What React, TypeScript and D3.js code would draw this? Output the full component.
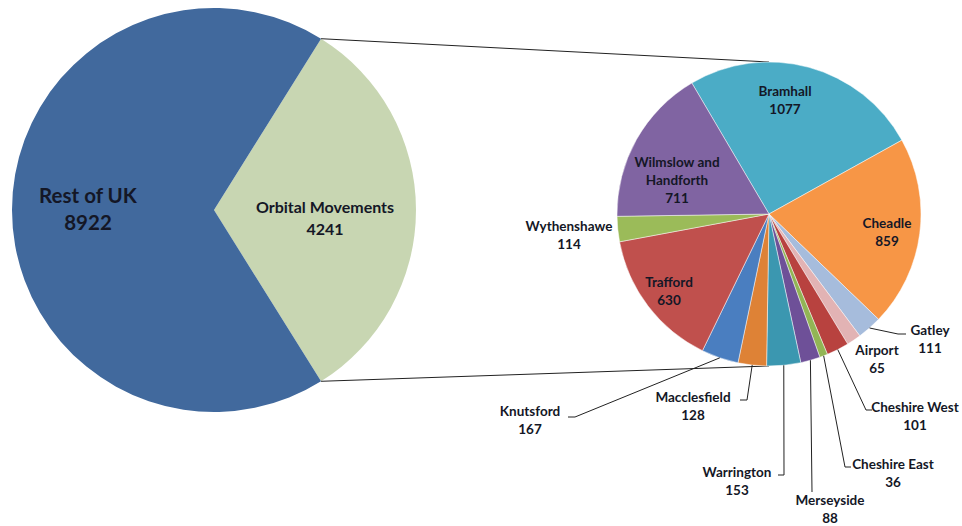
import React from "react";
import * as d3 from "d3";

// main pie
const mainCategories = ["Orbital Movements", "Rest of UK"];
const mainValues = [4241, 8922];
const mainColors = ["#C8D6B2", "#41699D"];

// breakdown of orbital movements (second pie, clockwise from Bramhall)
const orbitalCategories = [
  "Bramhall",
  "Cheadle",
  "Gatley",
  "Airport",
  "Cheshire West",
  "Cheshire East",
  "Merseyside",
  "Warrington",
  "Macclesfield",
  "Knutsford",
  "Trafford",
  "Wythenshawe",
  "Wilmslow and Handforth",
];
const orbitalValues = [1077, 859, 111, 65, 101, 36, 88, 153, 128, 167, 630, 114, 711];
const orbitalColors = [
  "#4BACC6", "#F79646", "#A6BCDC", "#E2B3B4", "#B8423F", "#92B555", "#6E5098",
  "#3B97B0", "#DE8236", "#4A7EC0", "#C0504D", "#9BBB59", "#8064A2",
];

const W = 962;
const H = 526;
const FONT = "Lato, 'Open Sans', sans-serif";
const TEXT = "#141726";

const bigPie = { cx: 214, cy: 210, r: 202 };
const smallPie = { cx: 769, cy: 214, r: 152 };
const smallStart = (-30.5 * Math.PI) / 180;

// label layout: centre of first line
const mainLabelPos: Record<string, { x: number; y: number; size: number; gap: number }> = {
  "Rest of UK": { x: 88, y: 195, size: 20.5, gap: 27 },
  "Orbital Movements": { x: 325, y: 206, size: 16, gap: 22 },
};

const labelPos: Record<string, [number, number]> = {
  Bramhall: [785, 91],
  Cheadle: [887, 223],
  Gatley: [930, 330],
  Airport: [877, 350],
  "Cheshire West": [915, 407],
  "Cheshire East": [893, 464],
  Merseyside: [830, 500],
  Warrington: [737, 472],
  Macclesfield: [693, 397],
  Knutsford: [530, 411],
  Trafford: [669, 282],
  Wythenshawe: [569, 226],
  "Wilmslow and Handforth": [677, 162],
};

const labelLines: Record<string, string[]> = {
  "Wilmslow and Handforth": ["Wilmslow and", "Handforth"],
};

// leader lines: elbow then end beside the label
const leaders: Record<string, [number, number][]> = {
  Gatley: [[898, 334], [906, 334]],
  "Cheshire West": [[866, 410], [872, 410]],
  "Cheshire East": [[845, 467], [851, 467]],
  Merseyside: [[812, 492]],
  Warrington: [[784, 475], [778, 475]],
  Macclesfield: [[747, 400], [740, 400]],
  Knutsford: [[575, 417], [568, 417]],
};

const polar = (cx: number, cy: number, r: number, a: number): [number, number] => [
  cx + r * Math.sin(a),
  cy - r * Math.cos(a),
];

export default function App() {
  const mainTotal = d3.sum(mainValues);
  const orbitalAngle = (mainValues[0] / mainTotal) * Math.PI * 2;
  const mainStart = Math.PI / 2 - orbitalAngle / 2;

  const mainArcs = d3
    .pie<number>()
    .sort(null)
    .startAngle(mainStart)
    .endAngle(mainStart + Math.PI * 2)(mainValues);

  const smallArcs = d3
    .pie<number>()
    .sort(null)
    .startAngle(smallStart)
    .endAngle(smallStart + Math.PI * 2)(orbitalValues);

  const bigArc = d3.arc<d3.PieArcDatum<number>>().innerRadius(0).outerRadius(bigPie.r);
  const smallArc = d3.arc<d3.PieArcDatum<number>>().innerRadius(0).outerRadius(smallPie.r);

  const orb = mainArcs[0];
  const topFrom = polar(bigPie.cx, bigPie.cy, bigPie.r, orb.startAngle);
  const botFrom = polar(bigPie.cx, bigPie.cy, bigPie.r, orb.endAngle);
  const topTo = polar(smallPie.cx, smallPie.cy, smallPie.r, 0);
  const botTo = polar(smallPie.cx, smallPie.cy, smallPie.r, Math.PI);

  const line = d3.line();

  return (
    <svg
      width={W}
      height={H}
      style={{ position: "absolute", left: 0, top: 0, background: "#fff" }}
      fontFamily={FONT}
      fontWeight="bold"
    >
      {/* main pie */}
      <g transform={`translate(${bigPie.cx},${bigPie.cy})`}>
        {mainArcs.map((a, i) => (
          <path key={i} d={bigArc(a) || ""} fill={mainColors[i]} />
        ))}
      </g>

      {/* connector lines */}
      <path d={line([topFrom, topTo]) || ""} stroke="#222" strokeWidth={1} fill="none" />
      <path d={line([botFrom, botTo]) || ""} stroke="#222" strokeWidth={1} fill="none" />

      {/* second pie */}
      <g transform={`translate(${smallPie.cx},${smallPie.cy})`}>
        {smallArcs.map((a, i) => (
          <path
            key={i}
            d={smallArc(a) || ""}
            fill={orbitalColors[i]}
            stroke="#fff"
            strokeOpacity={0.6}
            strokeWidth={0.8}
          />
        ))}
      </g>

      {/* leader lines */}
      {smallArcs.map((a, i) => {
        const name = orbitalCategories[i];
        const pts = leaders[name];
        if (!pts) return null;
        const mid = (a.startAngle + a.endAngle) / 2;
        const anchor = polar(smallPie.cx, smallPie.cy, smallPie.r, mid);
        return (
          <path
            key={name}
            d={line([anchor, ...pts]) || ""}
            stroke="#222"
            strokeWidth={1}
            fill="none"
          />
        );
      })}

      {/* main labels */}
      {mainCategories.map((c, i) => {
        const p = mainLabelPos[c];
        return (
          <text
            key={c}
            textAnchor="middle"
            fontSize={p.size}
            fill={TEXT}
            dominantBaseline="central"
          >
            <tspan x={p.x} y={p.y}>{c}</tspan>
            <tspan x={p.x} y={p.y + p.gap}>{mainValues[i]}</tspan>
          </text>
        );
      })}

      {/* second pie labels */}
      {orbitalCategories.map((c, i) => {
        const [x, y] = labelPos[c];
        const lines = [...(labelLines[c] || [c]), String(orbitalValues[i])];
        return (
          <text key={c} textAnchor="middle" fontSize={13.5} fill={TEXT} dominantBaseline="central">
            {lines.map((t, j) => (
              <tspan key={j} x={x} y={y + j * 17.8}>
                {t}
              </tspan>
            ))}
          </text>
        );
      })}
    </svg>
  );
}
